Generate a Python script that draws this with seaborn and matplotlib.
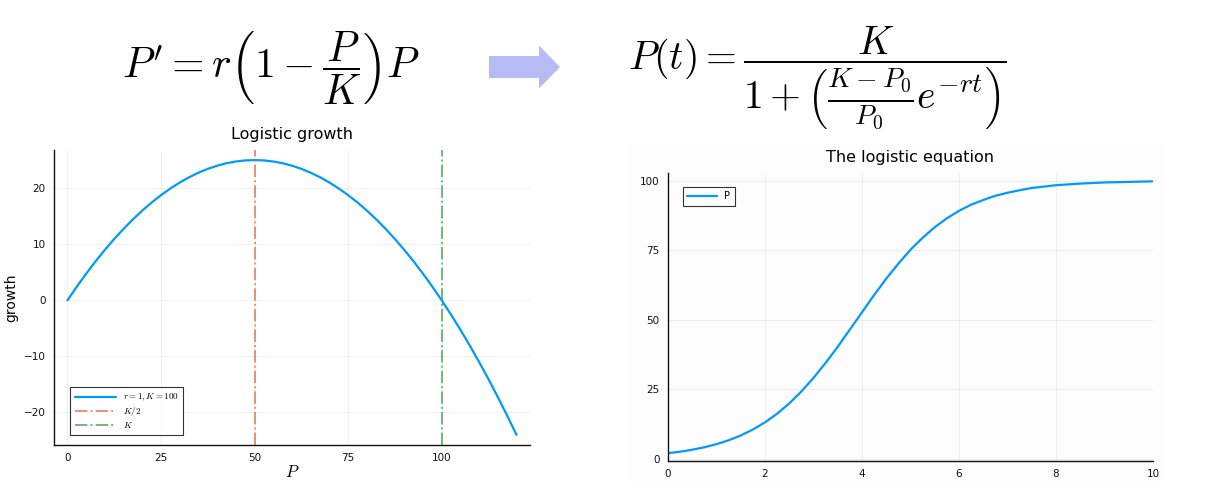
import matplotlib
matplotlib.use('Agg')
import matplotlib.pyplot as plt
import matplotlib.patches as mpatches
import numpy as np
import pandas as pd
import seaborn as sns

# left panel: growth = r*(1-P/K)*P (r=1, K=100)
P_vals=[0,2.5,5,7.5,10,12.5,15,17.5,20,22.5,25,27.5,30,32.5,35,37.5,40,42.5,45,47.5,
        50,52.5,55,57.5,60,62.5,65,67.5,70,72.5,75,77.5,80,82.5,85,87.5,90,92.5,95,97.5,
        100,102.5,105,107.5,110,112.5,115,117.5,120]
growth=[0,2.44,4.75,6.94,9,10.94,12.75,14.44,16,17.44,18.75,19.94,21,21.94,22.75,23.44,
        24,24.44,24.75,24.94,25,24.94,24.75,24.44,24,23.44,22.75,21.94,21,19.94,18.75,
        17.44,16,14.44,12.75,10.94,9,6.94,4.75,2.44,0,-2.56,-5.25,-8.06,-11,-14.06,
        -17.25,-20.56,-24]
vlines=[50,100]
vline_labels=['$K/2$','$K$']

# right panel: logistic solution
t_vals=[0,0.25,0.5,0.75,1,1.25,1.5,1.75,2,2.25,2.5,2.75,3,3.25,3.5,3.75,4,4.25,4.5,4.75,
        5,5.25,5.5,5.75,6,6.25,6.5,6.75,7,7.25,7.5,7.75,8,8.25,8.5,8.75,9,9.25,9.5,9.75,10]
P_t=[2.0,2.55,3.26,4.14,5.26,6.65,8.38,10.51,13.1,16.22,19.9,24.2,29.1,34.5,40.3,46.5,
     52.7,58.9,64.8,70.2,75.2,79.5,83.3,86.5,89.2,91.4,93.1,94.6,95.7,96.6,97.4,97.9,
     98.4,98.7,99.0,99.2,99.4,99.5,99.6,99.7,99.8]

blue='#009AFA'
orange='#E36F47'
green='#3EA44E'

sns.set_theme(style='white')
plt.rcParams['font.family']=['DejaVu Sans']
plt.rcParams['mathtext.fontset']='cm'
plt.rcParams['text.color']='black'
plt.rcParams['axes.labelcolor']='black'

fig=plt.figure(figsize=(12.12,4.82),dpi=100)

# faint panel background on the right
fig.patches.append(mpatches.Rectangle((630/1212,0),532/1212,1-145/482,
                   transform=fig.transFigure,color='#fdfdfd',zorder=-5))

def style_axes(ax):
    for s in ['top','right']:
        ax.spines[s].set_visible(False)
    for s in ['left','bottom']:
        ax.spines[s].set_color('#111111')
        ax.spines[s].set_linewidth(1.0)
    ax.grid(True,color='#000000',alpha=0.07,linewidth=0.6)
    ax.tick_params(direction='in',length=3,width=0.8,labelsize=7.5,
                   colors='#111111',pad=6)
    ax.set_facecolor('none')

# left axes
ax1=fig.add_axes([54/1212,1-445/482,476/1212,295/482])
df1=pd.DataFrame({'P':P_vals,'growth':growth})
sns.lineplot(data=df1,x='P',y='growth',ax=ax1,color=blue,linewidth=1.6,
             label='$r = 1, K = 100$')
ax1.axvline(vlines[0],color=orange,linestyle='-.',linewidth=1.4,alpha=0.75,label=vline_labels[0])
ax1.axvline(vlines[1],color=green,linestyle='-.',linewidth=1.4,alpha=0.75,label=vline_labels[1])
ax1.set_xlim(-3.6,123.6)
ax1.set_ylim(-25.8,26.8)
ax1.set_xticks([0,25,50,75,100])
ax1.set_yticks([-20,-10,0,10,20])
style_axes(ax1)
ax1.set_xlabel('$P$',fontsize=12,labelpad=0)
ax1.set_ylabel('growth',fontsize=10)
ax1.set_title('Logistic growth',fontsize=11.5,pad=8)
leg=ax1.legend(loc='lower left',fontsize=6.5,frameon=True,fancybox=False,
               edgecolor='black',handlelength=4.5,borderpad=0.5,labelspacing=0.2,
               bbox_to_anchor=(0.025,0.02))
leg.get_frame().set_linewidth(0.8)

# right axes
ax2=fig.add_axes([668/1212,1-461/482,485/1212,288/482])
df2=pd.DataFrame({'t':t_vals,'P':P_t})
sns.lineplot(data=df2,x='t',y='P',ax=ax2,color=blue,linewidth=1.6,label='P')
ax2.set_xlim(0,10)
ax2.set_ylim(-0.8,102.8)
ax2.set_xticks([0,2,4,6,8,10])
ax2.set_yticks([0,25,50,75,100])
style_axes(ax2)
ax2.set_xlabel('')
ax2.set_ylabel('')
ax2.set_title('The logistic equation',fontsize=11.5,pad=8)
leg2=ax2.legend(loc='upper left',fontsize=7,frameon=True,fancybox=False,
                edgecolor='black',handlelength=3,borderpad=0.5,
                bbox_to_anchor=(0.02,0.97))
leg2.get_frame().set_linewidth(0.8)

# equations
fig.text(271/1212,1-68/482,r"$P' = r\left(1 - \dfrac{P}{K}\right)P$",
         fontsize=30,ha='center',va='center')
fig.text(628/1212,1-78/482,
         r"$P(t) = \dfrac{K}{1 + \left(\frac{K-P_0}{P_0}e^{-rt}\right)}$",
         fontsize=28.5,ha='left',va='center')

# arrow
fig.patches.append(mpatches.FancyArrow(489/1212,1-67/482,50/1212,0,
                   width=22/482,head_width=43/482,head_length=21/1212,
                   length_includes_head=False,transform=fig.transFigure,
                   color='#b6bbf6',linewidth=0))

fig.savefig('out.png',dpi=100)
